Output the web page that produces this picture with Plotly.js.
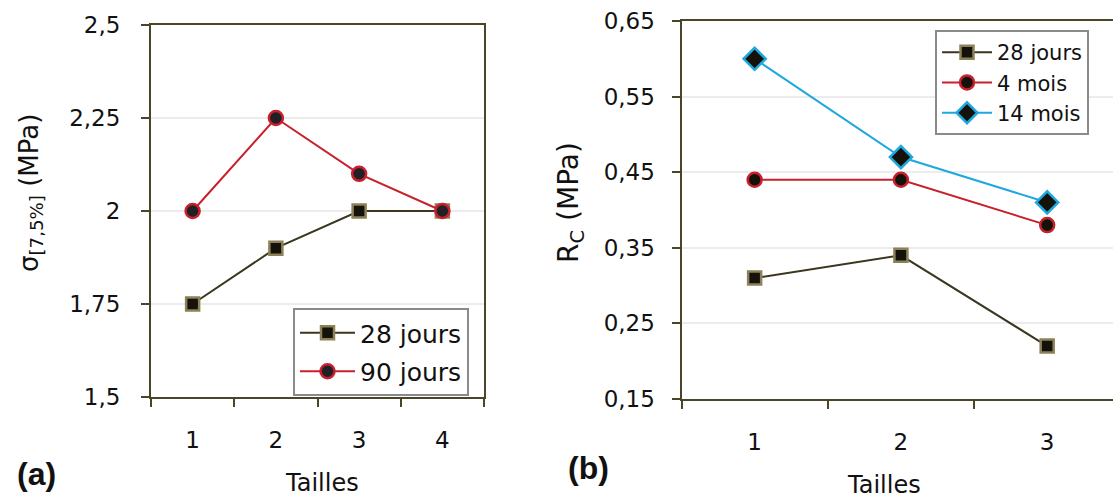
<!DOCTYPE html>
<html>
<head>
<meta charset="utf-8">
<script src="https://cdn.plot.ly/plotly-3.0.1.min.js"></script>
<style>html,body{margin:0;padding:0;background:#fff;}#chart{width:1113px;height:499px;}</style>
</head>
<body>
<div id="chart"></div>
<script>
// Panel (a)
const catsA = ["1", "2", "3", "4"];
const a28jours = [1.75, 1.9, 2.0, 2.0];
const a90jours = [2.0, 2.25, 2.1, 2.0];
const yTicksA = [1.5, 1.75, 2, 2.25, 2.5];
const yTickTextA = ["1,5", "1,75", "2", "2,25", "2,5"];

// Panel (b)
const catsB = ["1", "2", "3"];
const b28jours = [0.31, 0.34, 0.22];
const b4mois = [0.44, 0.44, 0.38];
const b14mois = [0.60, 0.47, 0.41];
const yTicksB = [0.15, 0.25, 0.35, 0.45, 0.55, 0.65];
const yTickTextB = ["0,15", "0,25", "0,35", "0,45", "0,55", "0,65"];

const W = 1113, H = 499;
const FONT = "DejaVu Sans, sans-serif";
const AXC = "#4a4428";
const C28 = "#3b3620", C28E = "#8c8258", CFILL = "#14120a";
const CRED = "#c8202c", CRFILL = "#222026";
const CBLUE = "#1ea8e0";

const traces = [
  {x: catsA, y: a28jours, name: "28 jours", type: "scatter", mode: "lines+markers",
   xaxis: "x", yaxis: "y", legend: "legend", legendgroup: "a1",
   line: {color: C28, width: 2}, marker: {symbol: "square", size: 13, color: CFILL, line: {color: C28E, width: 2.5}}},
  {x: catsA, y: a90jours, name: "90 jours", type: "scatter", mode: "lines+markers",
   xaxis: "x", yaxis: "y", legend: "legend", legendgroup: "a2",
   line: {color: CRED, width: 2}, marker: {symbol: "circle", size: 14, color: CRFILL, line: {color: CRED, width: 2.5}}},
  {x: catsB, y: b28jours, name: "28 jours", type: "scatter", mode: "lines+markers",
   xaxis: "x2", yaxis: "y2", legend: "legend2",
   line: {color: C28, width: 2}, marker: {symbol: "square", size: 13, color: CFILL, line: {color: C28E, width: 2.5}}},
  {x: catsB, y: b4mois, name: "4 mois", type: "scatter", mode: "lines+markers",
   xaxis: "x2", yaxis: "y2", legend: "legend2",
   line: {color: CRED, width: 2}, marker: {symbol: "circle", size: 14, color: CFILL, line: {color: CRED, width: 2.5}}},
  {x: catsB, y: b14mois, name: "14 mois", type: "scatter", mode: "lines+markers",
   xaxis: "x2", yaxis: "y2", legend: "legend2",
   line: {color: CBLUE, width: 2}, marker: {symbol: "diamond", size: 17, color: CFILL, line: {color: CBLUE, width: 2.5}}}
];

const tickFont = {family: FONT, size: 23, color: "#111"};
const baseX = {
  type: "category", tickson: "boundaries", ticks: "outside", ticklen: 8, tickwidth: 2, tickcolor: AXC,
  showline: true, linecolor: AXC, linewidth: 2, showgrid: false, zeroline: false,
  tickfont: tickFont, ticklabelstandoff: 21, fixedrange: true
};
const baseY = {
  ticks: "outside", ticklen: 8, tickwidth: 2, tickcolor: AXC,
  showline: true, linecolor: AXC, linewidth: 2, showgrid: true, gridcolor: "#ececec", gridwidth: 2,
  zeroline: false, tickfont: tickFont, ticklabelstandoff: 16, fixedrange: true
};

const layout = {
  width: W, height: H,
  margin: {l: 0, r: 0, t: 0, b: 0},
  paper_bgcolor: "#fff", plot_bgcolor: "#fff",
  font: {family: FONT, color: "#111"},
  xaxis: Object.assign({}, baseX, {domain: [151/W, 484/W], range: [-0.5, 3.5], mirror: true, anchor: "y"}),
  yaxis: Object.assign({}, baseY, {domain: [(H-397)/H, (H-25)/H], range: [1.5, 2.5], tickmode: "array",
    tickvals: yTicksA, ticktext: yTickTextA, mirror: true, anchor: "x"}),
  xaxis2: Object.assign({}, baseX, {domain: [681.5/W, 1], range: [-0.5, 2.45], mirror: true, anchor: "y2"}),
  yaxis2: Object.assign({}, baseY, {domain: [(H-399)/H, (H-21)/H], range: [0.15, 0.65], tickmode: "array",
    tickvals: yTicksB, ticktext: yTickTextB, mirror: false, anchor: "x2", ticklabelstandoff: 12}),
  showlegend: true,
  legend: {x: 293/W, y: 1-308/H, xanchor: "left", yanchor: "top", bgcolor: "#fff",
    bordercolor: "#8a8a8a", borderwidth: 2, font: {family: FONT, size: 25, color: "#111"},
    tracegroupgap: 3, itemwidth: 55},
  legend2: {x: 935/W, y: 1-30/H, xanchor: "left", yanchor: "top", bgcolor: "#fff",
    bordercolor: "#8a8a8a", borderwidth: 2, font: {family: FONT, size: 21, color: "#111"},
    tracegroupgap: 0, itemwidth: 50},
  annotations: [
    {text: "Tailles", xref: "paper", yref: "paper", x: 322/W, y: 1-483/H, showarrow: false,
     xanchor: "center", yanchor: "middle", font: {family: FONT, size: 24, color: "#111"}},
    {text: "Tailles", xref: "paper", yref: "paper", x: 884/W, y: 1-485/H, showarrow: false,
     xanchor: "center", yanchor: "middle", font: {family: FONT, size: 24, color: "#111"}},
    {text: "σ<sub>[7,5%]</sub> (MPa)", xref: "paper", yref: "paper", x: 30/W, y: 1-193/H, showarrow: false,
     textangle: -90, xanchor: "center", yanchor: "middle", font: {family: FONT, size: 26, color: "#111"}},
    {text: "R<sub>C</sub> (MPa)", xref: "paper", yref: "paper", x: 570/W, y: 1-203/H, showarrow: false,
     textangle: -90, xanchor: "center", yanchor: "middle", font: {family: FONT, size: 28, color: "#111"}},
    {text: "<b>(a)</b>", xref: "paper", yref: "paper", x: 37/W, y: 1-474/H, showarrow: false,
     xanchor: "center", yanchor: "middle", font: {family: "Liberation Sans Narrow, Liberation Sans, sans-serif", size: 32, color: "#111"}},
    {text: "<b>(b)</b>", xref: "paper", yref: "paper", x: 588/W, y: 1-468/H, showarrow: false,
     xanchor: "center", yanchor: "middle", font: {family: "Liberation Sans Narrow, Liberation Sans, sans-serif", size: 32, color: "#111"}}
  ]
};

Plotly.newPlot("chart", traces, layout, {staticPlot: true, displayModeBar: false});
</script>
</body>
</html>
